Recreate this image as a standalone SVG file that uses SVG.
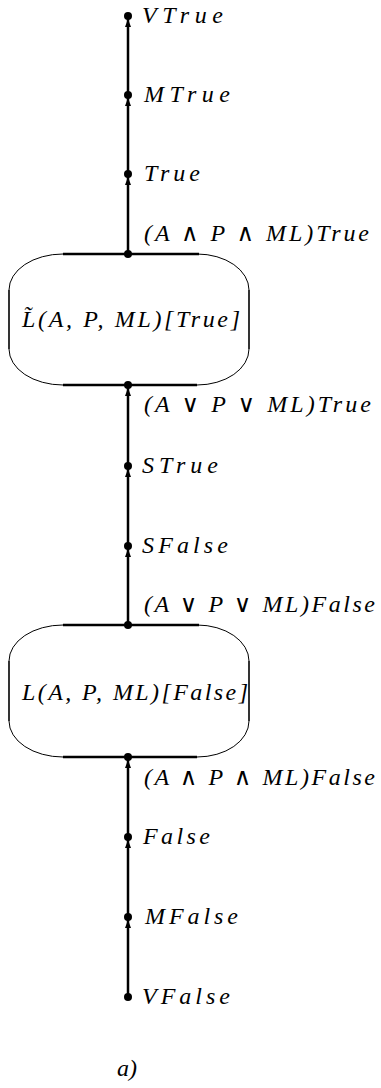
<svg xmlns="http://www.w3.org/2000/svg" width="381" height="1088" viewBox="0 0 381 1088">
<style>
text{font-family:"Liberation Serif","DejaVu Serif",serif;font-style:italic;font-size:24px;fill:#000}
.conn line{stroke:#000;stroke-width:2.5;marker-end:url(#ah)}
.arc{fill:none;stroke:#000;stroke-width:1}
.side{stroke:#000;stroke-width:1.6}
.bar{stroke:#000;stroke-width:2.6}
.dot{fill:#000}
</style>
<defs>
<marker id="ah" markerUnits="userSpaceOnUse" markerWidth="10" markerHeight="8" refX="8" refY="3" orient="auto" viewBox="0 0 10 6">
<path d="M0,0 L8,3 L0,6 z" fill="#000"/>
</marker>
</defs>
<g class="conn" id="connectors">
<line x1="128" y1="997" x2="128" y2="920"/>
<line x1="128" y1="917" x2="128" y2="840"/>
<line x1="128" y1="837" x2="128" y2="760"/>
<line x1="128" y1="625" x2="128" y2="549"/>
<line x1="128" y1="546" x2="128" y2="469"/>
<line x1="128" y1="466" x2="128" y2="388"/>
<line x1="128" y1="254" x2="128" y2="177"/>
<line x1="128" y1="174" x2="128" y2="98"/>
<line x1="128" y1="95" x2="128" y2="19"/>
</g>
<g id="node-box1">
<path class="arc" d="M63,254 A54,36 0 0 0 9,290 M9,349 A54,36 0 0 0 63,385 M197,254 A52,36 0 0 1 249,290 M249,349 A52,36 0 0 1 197,385"/>
<line class="side" x1="9" y1="290" x2="9" y2="349"/>
<line class="side" x1="249" y1="290" x2="249" y2="349"/>
<line class="bar" x1="63" y1="254" x2="199" y2="254"/>
<line class="bar" x1="63" y1="385" x2="197" y2="385"/>
<text x="22" y="327" textLength="218" lengthAdjust="spacing">L̃(A, P, ML)[True]</text>
</g>
<g id="node-box2">
<path class="arc" d="M63,625 A54,36 0 0 0 9,661 M9,721 A54,36 0 0 0 63,757 M197,625 A52,36 0 0 1 249,661 M249,721 A52,36 0 0 1 197,757"/>
<line class="side" x1="9" y1="661" x2="9" y2="721"/>
<line class="side" x1="249" y1="661" x2="249" y2="721"/>
<line class="bar" x1="63" y1="625" x2="199" y2="625"/>
<line class="bar" x1="63" y1="757" x2="197" y2="757"/>
<text x="22" y="700" textLength="226" lengthAdjust="spacing">L(A, P, ML)[False]</text>
</g>
<g id="node-vtrue"><circle class="dot" cx="128" cy="16" r="4"/><text x="142" y="23" textLength="81" lengthAdjust="spacing">VTrue</text></g>
<g id="node-mtrue"><circle class="dot" cx="128" cy="95" r="4"/><text x="144" y="102" textLength="86" lengthAdjust="spacing">MTrue</text></g>
<g id="node-true"><circle class="dot" cx="128" cy="174" r="4"/><text x="144" y="181" textLength="56" lengthAdjust="spacing">True</text></g>
<g id="node-andtrue"><circle class="dot" cx="128" cy="254" r="4"/><text x="144" y="241" textLength="225" lengthAdjust="spacing">(A ∧ P ∧ ML)True</text></g>
<g id="node-ortrue"><circle class="dot" cx="128" cy="385" r="4"/><text x="144" y="412" textLength="227" lengthAdjust="spacing">(A ∨ P ∨ ML)True</text></g>
<g id="node-strue"><circle class="dot" cx="128" cy="466" r="4"/><text x="142" y="473" textLength="76" lengthAdjust="spacing">STrue</text></g>
<g id="node-sfalse"><circle class="dot" cx="128" cy="546" r="4"/><text x="142" y="553" textLength="86" lengthAdjust="spacing">SFalse</text></g>
<g id="node-orfalse"><circle class="dot" cx="128" cy="625" r="4"/><text x="144" y="612" textLength="231" lengthAdjust="spacing">(A ∨ P ∨ ML)False</text></g>
<g id="node-andfalse"><circle class="dot" cx="128" cy="757" r="4"/><text x="144" y="785" textLength="231" lengthAdjust="spacing">(A ∧ P ∧ ML)False</text></g>
<g id="node-false"><circle class="dot" cx="128" cy="837" r="4"/><text x="143" y="844" textLength="67" lengthAdjust="spacing">False</text></g>
<g id="node-mfalse"><circle class="dot" cx="128" cy="917" r="4"/><text x="145" y="924" textLength="93" lengthAdjust="spacing">MFalse</text></g>
<g id="node-vfalse"><circle class="dot" cx="128" cy="997" r="4"/><text x="142" y="1004" textLength="88" lengthAdjust="spacing">VFalse</text></g>
<text x="117" y="1076">a)</text>
</svg>
